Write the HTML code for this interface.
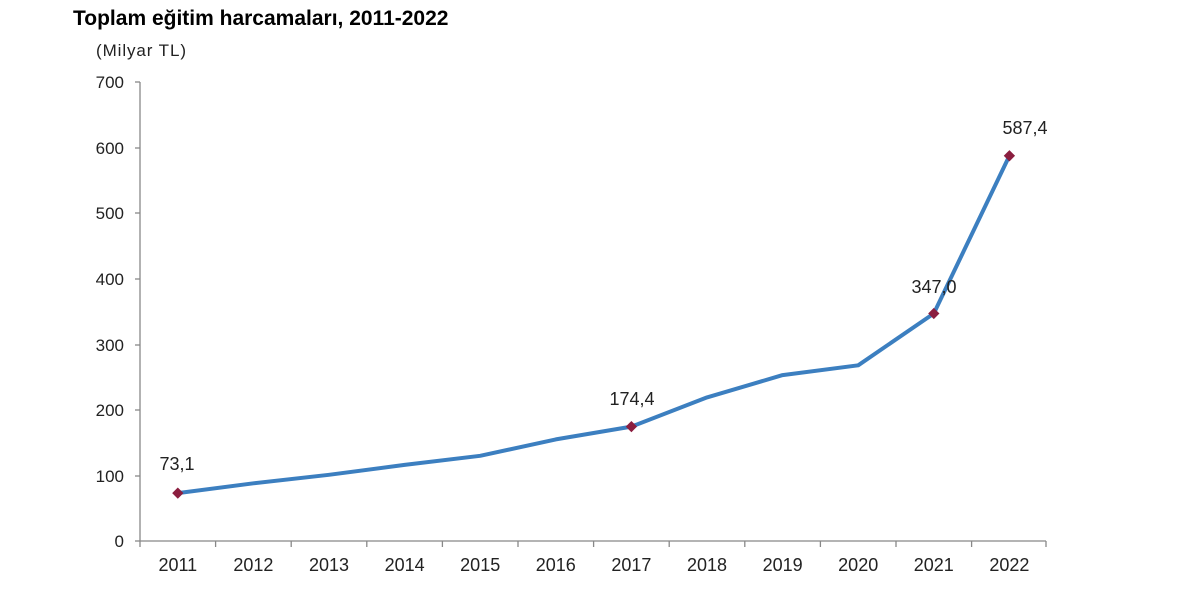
<!DOCTYPE html>
<html><head><meta charset="utf-8"><style>
body{margin:0;background:#fff;width:1200px;height:607px;overflow:hidden}
svg text{font-family:"Liberation Sans",Arial,sans-serif}
</style></head><body>
<svg width="1200" height="607" xmlns="http://www.w3.org/2000/svg">
<text x="73" y="25" font-size="21" font-weight="bold" fill="#000">Toplam eğitim harcamaları, 2011-2022</text>
<text x="96" y="56" font-size="17" fill="#222" textLength="90">(Milyar TL)</text>
<g stroke="#888" stroke-width="1.3" fill="none">
<line x1="140" y1="82" x2="140" y2="541"/>
<line x1="140" y1="541" x2="1046" y2="541"/>
<line x1="135" y1="82" x2="140" y2="82"/>
<line x1="135" y1="148" x2="140" y2="148"/>
<line x1="135" y1="213" x2="140" y2="213"/>
<line x1="135" y1="279" x2="140" y2="279"/>
<line x1="135" y1="345" x2="140" y2="345"/>
<line x1="135" y1="410" x2="140" y2="410"/>
<line x1="135" y1="476" x2="140" y2="476"/>
<line x1="135" y1="541" x2="140" y2="541"/>
<line x1="140" y1="541" x2="140" y2="547"/><line x1="215.6" y1="541" x2="215.6" y2="547"/><line x1="291.2" y1="541" x2="291.2" y2="547"/><line x1="366.8" y1="541" x2="366.8" y2="547"/><line x1="442.4" y1="541" x2="442.4" y2="547"/><line x1="518" y1="541" x2="518" y2="547"/><line x1="593.6" y1="541" x2="593.6" y2="547"/><line x1="669.2" y1="541" x2="669.2" y2="547"/><line x1="744.8" y1="541" x2="744.8" y2="547"/><line x1="820.4" y1="541" x2="820.4" y2="547"/><line x1="896" y1="541" x2="896" y2="547"/><line x1="971.6" y1="541" x2="971.6" y2="547"/><line x1="1046" y1="541" x2="1046" y2="547"/>
</g>
<g font-size="17" fill="#222" text-anchor="end">
<text x="124" y="88">700</text><text x="124" y="154">600</text><text x="124" y="219">500</text><text x="124" y="285">400</text><text x="124" y="351">300</text><text x="124" y="416">200</text><text x="124" y="482">100</text><text x="124" y="547">0</text>
</g>
<g font-size="18" fill="#222" text-anchor="middle">
<text x="177.8" y="571">2011</text><text x="253.4" y="571">2012</text><text x="329" y="571">2013</text><text x="404.6" y="571">2014</text><text x="480.2" y="571">2015</text><text x="555.8" y="571">2016</text><text x="631.4" y="571">2017</text><text x="707" y="571">2018</text><text x="782.6" y="571">2019</text><text x="858.2" y="571">2020</text><text x="933.8" y="571">2021</text><text x="1009.4" y="571">2022</text>
</g>
<polyline fill="none" stroke="#3c7fc0" stroke-width="4" stroke-linejoin="round" points="177.8,493.1 253.4,483.3 329,474.8 404.6,464.9 480.2,455.8 555.8,439.4 631.4,426.6 707,397.4 782.6,375.1 858.2,365.3 933.8,313.5 1009.4,155.8"/>
<g fill="#8b1e3f">
<rect x="173.8" y="489.1" width="8" height="8" transform="rotate(45 177.8 493.1)"/>
<rect x="627.4" y="422.6" width="8" height="8" transform="rotate(45 631.4 426.6)"/>
<rect x="929.8" y="309.5" width="8" height="8" transform="rotate(45 933.8 313.5)"/>
<rect x="1005.4" y="151.8" width="8" height="8" transform="rotate(45 1009.4 155.8)"/>
</g>
<g font-size="18" fill="#222" text-anchor="middle">
<text x="177" y="470">73,1</text>
<text x="632" y="405">174,4</text>
<text x="934" y="293">347,0</text>
<text x="1025" y="134">587,4</text>
</g>
</svg>
</body></html>
